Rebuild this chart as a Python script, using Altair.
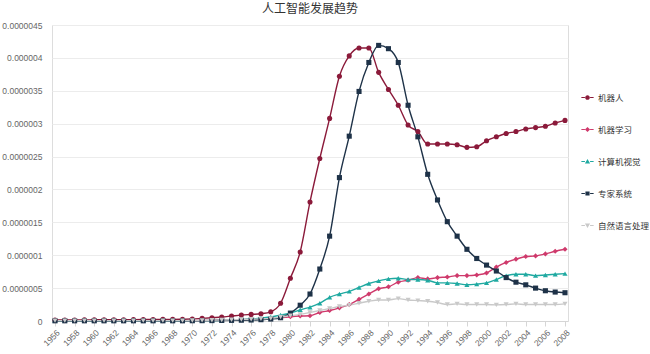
import altair as alt
import pandas as pd

years = list(range(1956, 2009))
series_names = ["机器人", "机器学习", "计算机视觉", "专家系统", "自然语言处理"]
colors = ["#8b1a3a", "#cf3a6c", "#1fa9a1", "#1e3248", "#c9c9c9"]

# values in units of 1e-6
robot = [0.015, 0.015, 0.016, 0.017, 0.018, 0.019, 0.020, 0.020, 0.021, 0.022, 0.023, 0.024, 0.025, 0.027,
         0.030, 0.040, 0.050, 0.060, 0.075, 0.090, 0.100, 0.110, 0.140, 0.270,
         0.65, 1.05, 1.81, 2.47, 3.08, 3.72, 4.03, 4.15, 4.15, 3.78,
         3.52, 3.28, 2.98, 2.88, 2.69, 2.69, 2.69, 2.68, 2.64, 2.65,
         2.74, 2.80, 2.85, 2.88, 2.92, 2.94, 2.96, 3.01, 3.05]
ml = [0.005, 0.005, 0.005, 0.005, 0.005, 0.005, 0.005, 0.005, 0.005, 0.005, 0.005, 0.005, 0.005, 0.005,
      0.006, 0.008, 0.010, 0.012, 0.015, 0.020, 0.025, 0.030, 0.040, 0.050,
      0.065, 0.075, 0.080, 0.13, 0.16, 0.20, 0.25, 0.33, 0.41, 0.49,
      0.52, 0.59, 0.62, 0.66, 0.64, 0.66, 0.67, 0.69, 0.69, 0.70,
      0.73, 0.82, 0.89, 0.94, 0.98, 0.99, 1.02, 1.06, 1.09]
cv = [0.004, 0.004, 0.004, 0.004, 0.004, 0.004, 0.004, 0.004, 0.004, 0.004, 0.004, 0.004, 0.004, 0.004,
      0.005, 0.006, 0.008, 0.010, 0.015, 0.020, 0.030, 0.045, 0.060, 0.090,
      0.12, 0.17, 0.21, 0.27, 0.36, 0.41, 0.45, 0.51, 0.57, 0.61,
      0.64, 0.65, 0.63, 0.63, 0.62, 0.58, 0.58, 0.57, 0.55, 0.56,
      0.58, 0.63, 0.69, 0.71, 0.71, 0.69, 0.70, 0.71, 0.72]
expert = [0.003, 0.003, 0.003, 0.003, 0.003, 0.003, 0.003, 0.003, 0.003, 0.003, 0.003, 0.003, 0.003, 0.003,
          0.004, 0.005, 0.006, 0.008, 0.010, 0.012, 0.015, 0.020, 0.030, 0.050,
          0.12, 0.24, 0.41, 0.79, 1.29, 2.18, 2.81, 3.49, 3.93, 4.19,
          4.14, 3.93, 3.28, 2.80, 2.23, 1.84, 1.51, 1.29, 1.09, 0.95,
          0.85, 0.76, 0.66, 0.59, 0.55, 0.50, 0.46, 0.44, 0.43]
nlp = [0.006, 0.006, 0.006, 0.006, 0.006, 0.006, 0.006, 0.006, 0.006, 0.006, 0.006, 0.006, 0.006, 0.006,
       0.008, 0.010, 0.012, 0.015, 0.018, 0.022, 0.027, 0.033, 0.040, 0.060,
       0.08, 0.10, 0.13, 0.16, 0.19, 0.22, 0.24, 0.27, 0.30, 0.32,
       0.32, 0.34, 0.32, 0.31, 0.30, 0.28, 0.25, 0.26, 0.25, 0.25,
       0.25, 0.245, 0.25, 0.26, 0.25, 0.25, 0.25, 0.25, 0.26]

x_ticks = list(range(1956, 2009, 2))
y_ticks = [round(i * 5e-7, 8) for i in range(10)]

rows = []
for name, vals in zip(series_names, [robot, ml, cv, expert, nlp]):
    for yr, v in zip(years, vals):
        rows.append({"year": yr, "series": name, "value": v * 1e-6})
df = pd.DataFrame(rows)


def color_scale():
    return alt.Scale(domain=series_names, range=colors)


side = "M-1,-0.08H-0.42V0.08H-1Z M0.42,-0.08H1V0.08H0.42Z "
legend_paths = [
    side + "M-0.38,0A0.38,0.38 0 1,0 0.38,0A0.38,0.38 0 1,0 -0.38,0Z",
    side + "M0,-0.42L0.42,0L0,0.42L-0.42,0Z",
    side + "M0,-0.42L0.42,0.32L-0.42,0.32Z",
    side + "M-0.34,-0.34H0.34V0.34H-0.34Z",
    side + "M0,0.42L0.42,-0.32L-0.42,-0.32Z",
]


def x_enc():
    return alt.X("year:Q",
                 scale=alt.Scale(domain=[1956, 2008], nice=False, padding=3),
                 axis=alt.Axis(values=x_ticks, format="d", labelAngle=-45, title=None, grid=False,
                               labelOverlap=False, domainColor="#d6d6d6", tickColor="#d6d6d6", tickSize=5,
                               labelColor="#666666", labelFontSize=8.5, labelFont="Liberation Sans"))


def y_enc():
    return alt.Y("value:Q",
                 scale=alt.Scale(domain=[0, 4.5e-6], nice=False),
                 axis=alt.Axis(values=y_ticks, format=".7~f", title=None, domain=False, ticks=False,
                               labelOverlap=False, gridColor="#ececec", labelPadding=10,
                               labelColor="#666666", labelFontSize=8.5, labelFont="Liberation Sans"))


base = alt.Chart(df)

lines = base.mark_line(interpolate="monotone", strokeWidth=1.4).encode(
    x=x_enc(), y=y_enc(),
    color=alt.Color("series:N", scale=color_scale(), legend=None),
    detail="series:N",
)

points = base.mark_point(filled=True, size=26, opacity=1).encode(
    x=x_enc(), y=y_enc(),
    color=alt.Color("series:N", scale=color_scale(), legend=None),
    shape=alt.Shape("series:N",
                    scale=alt.Scale(domain=series_names,
                                    range=["circle", "diamond", "triangle-up", "square", "triangle-down"]),
                    legend=None),
)


def leg():
    return alt.Legend(title=None, orient="none", legendX=529, legendY=66, symbolSize=150,
                      rowPadding=21, labelFont="Noto Sans CJK SC", labelFontSize=8.5,
                      labelColor="#333333", labelOffset=4, symbolStrokeWidth=0)


legend_layer = base.transform_filter("datum.value < 0").mark_point(filled=True, opacity=1).encode(
    x=x_enc(), y=y_enc(),
    color=alt.Color("series:N", scale=color_scale(), legend=leg()),
    shape=alt.Shape("series:N", scale=alt.Scale(domain=series_names, range=legend_paths), legend=leg()),
)

chart = alt.layer(lines, points, legend_layer).resolve_scale(
    shape="independent", color="independent"
).properties(
    width=516, height=296,
    title=alt.TitleParams("人工智能发展趋势", font="Noto Sans CJK SC", fontSize=12,
                          fontWeight="normal", color="#333333", offset=5, anchor="middle"),
    padding={"left": 52, "top": 25, "right": 82, "bottom": 33},
    autosize=alt.AutoSizeParams(type="none"),
).configure_view(stroke=None).configure(background="white")

chart.save("out.html", embed_options={"renderer": "svg", "actions": False})
